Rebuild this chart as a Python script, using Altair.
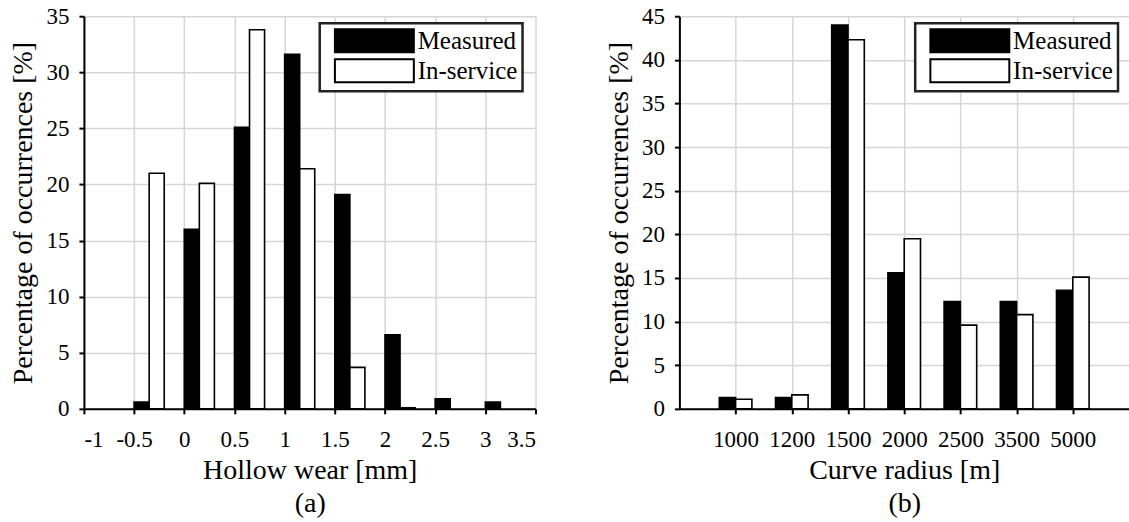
import altair as alt
import pandas as pd

# ---- data ----
wear_bins = [-0.5, 0, 0.5, 1, 1.5, 2, 2.5, 3]
wear_measured = [0.6, 16.0, 25.1, 31.6, 19.1, 6.6, 0.9, 0.6]
wear_inservice = [21.0, 20.1, 33.8, 21.4, 3.7, 0.1, 0, 0]
wear_ticks = [-1, -0.5, 0, 0.5, 1, 1.5, 2, 2.5, 3, 3.5]

radius_labels = ["1000", "1200", "1500", "2000", "2500", "3500", "5000"]
radius_measured = [1.3, 1.3, 44.0, 15.6, 12.3, 12.3, 13.6]
radius_inservice = [1.1, 1.6, 42.3, 19.5, 9.6, 10.8, 15.1]

series = ["Measured", "In-service"]
FONT = "Liberation Serif"

# ---- build tables ----
wa = 0.15
rows_a = []
for b, m, s in zip(wear_bins, wear_measured, wear_inservice):
    rows_a.append({"series": "Measured", "x": b, "x2": b + wa, "y": m})
    if s > 0:
        rows_a.append({"series": "In-service", "x": b + wa, "x2": b + 2 * wa, "y": s})
df_a = pd.DataFrame(rows_a)

wb = 0.29
rows_b = []
for i, (m, s) in enumerate(zip(radius_measured, radius_inservice)):
    c = i + 1
    rows_b.append({"series": "Measured", "x": c - wb, "x2": c, "y": m})
    rows_b.append({"series": "In-service", "x": c, "x2": c + wb, "y": s})
df_b = pd.DataFrame(rows_b)


def make_fill():
    legend = alt.Legend(
        title=None, orient="none", legendX=236, legendY=7, padding=5,
        strokeColor="#222", fillColor="white",
        symbolType="M-0.2,-1H6.67V1H-0.2Z", symbolSize=529,
        symbolStrokeColor="black", symbolStrokeWidth=2,
        labelFont=FONT, labelFontSize=25, labelColor="black",
        labelOffset=68, rowPadding=-1,
    )
    return alt.Fill("series:N", scale=alt.Scale(domain=series, range=["black", "white"]),
                    legend=legend)


def axis(**kw):
    return alt.Axis(labelFont=FONT, titleFont=FONT, labelFontSize=23,
                    titleFontSize=28, titleFontWeight="normal", **kw)


H = 393

panel_a = alt.Chart(df_a).mark_bar(stroke="black", strokeWidth=1.6).encode(
    x=alt.X("x:Q", scale=alt.Scale(domain=[-1, 3.5], nice=False, zero=False),
            axis=axis(values=wear_ticks, labelExpr="datum.value + ''",
                      title=["Hollow wear [mm]", "(a)"])),
    x2="x2:Q",
    y=alt.Y("y:Q", scale=alt.Scale(domain=[0, 35], nice=False),
            axis=axis(values=list(range(0, 36, 5)),
                      title="Percentage of occurrences [%]")),
    y2=alt.datum(0),
    fill=make_fill(),
).properties(width=452, height=H)

label_js = "[" + ",".join("'" + l + "'" for l in radius_labels) + "]"
panel_b = alt.Chart(df_b).mark_bar(stroke="black", strokeWidth=1.6).encode(
    x=alt.X("x:Q", scale=alt.Scale(domain=[0, 8], nice=False, zero=False),
            axis=axis(values=list(range(1, 8)),
                      labelExpr=label_js + "[datum.value - 1]",
                      title=["Curve radius [m]", "(b)"])),
    x2="x2:Q",
    y=alt.Y("y:Q", scale=alt.Scale(domain=[0, 45], nice=False),
            axis=axis(values=list(range(0, 46, 5)),
                      title="Percentage of occurrences [%]")),
    y2=alt.datum(0),
    fill=make_fill(),
).properties(width=450, height=H)

chart = alt.hconcat(panel_a, panel_b, spacing=69).resolve_scale(
    fill="independent", x="independent", y="independent"
).resolve_legend(fill="independent").properties(
    padding={"left": 10, "top": 5, "right": 0, "bottom": 0}
).configure(font=FONT).configure_view(strokeWidth=0).configure_axis(
    labelFont=FONT, titleFont=FONT, labelFontSize=23, titleFontSize=28,
    titleFontWeight="normal", labelColor="black", titleColor="black",
    domainColor="black", domainWidth=2, tickColor="black", tickWidth=2,
    tickSize=5, gridColor="#d6d6d6", gridWidth=1.5,
    titleLineHeight=33,
).configure_axisY(titlePadding=8, labelPadding=10
).configure_axisX(titlePadding=5, labelPadding=15
).configure_legend(strokeWidth=2.5)

chart.save("out.html", embed_options={"renderer": "svg", "actions": False})
